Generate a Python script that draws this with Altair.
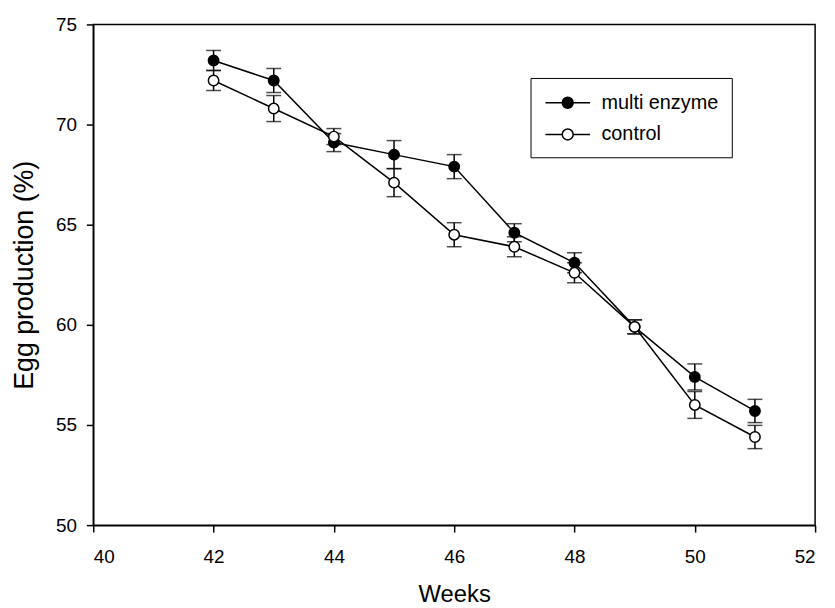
import altair as alt
import pandas as pd

weeks = [42, 43, 44, 45, 46, 47, 48, 49, 50, 51]
multi = [73.2, 72.2, 69.1, 68.5, 67.9, 64.6, 63.1, 59.9, 57.4, 55.7]
multi_se = [0.5, 0.6, 0.45, 0.7, 0.6, 0.45, 0.5, 0.35, 0.65, 0.58]
control = [72.2, 70.8, 69.4, 67.1, 64.5, 63.9, 62.6, 59.9, 56.0, 54.4]
control_se = [0.5, 0.65, 0.4, 0.7, 0.6, 0.5, 0.5, 0.35, 0.67, 0.58]
series_names = ["multi enzyme", "control"]

rows = []
for name, vals, ses in [(series_names[0], multi, multi_se), (series_names[1], control, control_se)]:
    for w, v, s in zip(weeks, vals, ses):
        rows.append({"week": w, "value": v, "lo": v - s, "hi": v + s, "series": name})
df = pd.DataFrame(rows)

FONT = "Liberation Sans"
xs = alt.Scale(domain=[40, 52], nice=False, zero=False)
ys = alt.Scale(domain=[50, 75], nice=False, zero=False)

x_enc = alt.X("week:Q", scale=xs, axis=alt.Axis(values=[40, 42, 44, 46, 48, 50, 52], format="d",
                                                  title="Weeks", labelPadding=16, titlePadding=16))
y_enc = alt.Y("value:Q", scale=ys, axis=alt.Axis(values=[50, 55, 60, 65, 70, 75], format="d",
                                                   title="Egg production (%)", titleFontSize=27,
                                                   labelPadding=10, titlePadding=17))

base = alt.Chart(df)

lines = base.mark_line(color="black", strokeWidth=1.5).encode(
    x=x_enc, y=y_enc, detail="series:N"
)
bars = base.mark_rule(color="black", strokeWidth=1.5).encode(
    x="week:Q", y="lo:Q", y2="hi:Q"
)
cap_lo = base.mark_tick(color="black", orient="horizontal", size=15, thickness=1.5).encode(
    x="week:Q", y="lo:Q"
)
cap_hi = base.mark_tick(color="black", orient="horizontal", size=15, thickness=1.5).encode(
    x="week:Q", y="hi:Q"
)

# legend glyph: a line with a circle on it (path spans -2..2 so it is twice the nominal symbol width)
legend_symbol = ("M-2,0L-0.489,0M2,0L0.489,0"
                 "M0.489,0A0.489,0.489,0,1,1,-0.489,0A0.489,0.489,0,1,1,0.489,0Z")

points = base.mark_point(shape="circle", stroke="black", strokeWidth=1.5, opacity=1, size=110).encode(
    x="week:Q",
    y="value:Q",
    fill=alt.Fill("series:N", scale=alt.Scale(domain=series_names, range=["black", "white"]),
                  legend=alt.Legend(title=None, orient="none", legendX=441, legendY=54,
                                    symbolType=legend_symbol, symbolSize=506,
                                    symbolStrokeColor="black", symbolStrokeWidth=1.5,
                                    symbolOffset=12.5,
                                    labelFont=FONT, labelFontSize=20, labelColor="black",
                                    labelOffset=22, strokeColor="black", fillColor="white",
                                    padding=13, rowPadding=10)),
)

chart = alt.layer(lines, bars, cap_lo, cap_hi, points).properties(
    width=728, height=505,
    autosize=alt.AutoSizeParams(type="none"),
    padding={"left": 86, "top": 14, "right": 12, "bottom": 80},
).configure_view(
    stroke="black", strokeWidth=1.5
).configure_axis(
    grid=False, domainColor="black", domainWidth=1.5, tickColor="black", tickWidth=1.5,
    tickSize=7, labelFont=FONT, labelFontSize=19, labelColor="black",
    titleFont=FONT, titleFontSize=24, titleFontWeight="normal", titleColor="black",
)

chart.save("out.html", embed_options={"renderer": "svg", "actions": False})
